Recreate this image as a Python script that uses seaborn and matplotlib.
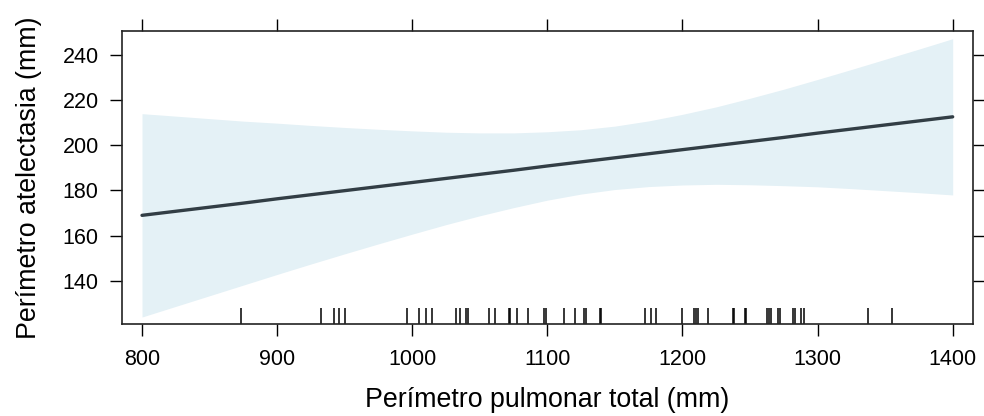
import numpy as np
import pandas as pd
import matplotlib
matplotlib.use("Agg")
import matplotlib.pyplot as plt
import seaborn as sns

# ---- data ----
x_grid = [800, 825, 850, 875, 900, 925, 950, 975, 1000, 1025, 1050, 1075, 1100,
          1125, 1150, 1175, 1200, 1225, 1250, 1275, 1300, 1325, 1350, 1375, 1400]
fit = [169.0, 170.8, 172.6, 174.4, 176.3, 178.1, 179.9, 181.7, 183.5, 185.3, 187.1, 188.9, 190.8,
       192.6, 194.4, 196.2, 198.0, 199.8, 201.6, 203.4, 205.3, 207.1, 208.9, 210.7, 212.5]
upper = [213.9, 212.8, 211.7, 210.6, 209.7, 208.7, 207.8, 207.0, 206.3, 205.7, 205.4, 205.4, 205.9,
         206.8, 208.4, 210.7, 213.6, 216.9, 220.7, 224.7, 229.0, 233.4, 237.9, 242.4, 247.0]
lower = [124.1, 128.8, 133.5, 138.2, 142.9, 147.5, 152.0, 156.4, 160.7, 164.9, 168.8, 172.4, 175.7,
         178.4, 180.4, 181.7, 182.4, 182.7, 182.5, 182.1, 181.6, 180.8, 179.9, 179.0, 178.0]

rug_x = [873.6, 932.3, 942.1, 946.1, 950.6,
         996.2, 1005.1, 1010.5, 1014.5, 1032.2, 1035.7, 1039.6, 1041.1, 1056.9, 1061.3,
         1071.5, 1072.6, 1077.4, 1085.8, 1097.6, 1099.1, 1112.0, 1120.3, 1126.8, 1128.7,
         1138.6, 1139.6,
         1172.0, 1176.4, 1180.3, 1199.6, 1208.8, 1210.0, 1211.2, 1218.8, 1237.6, 1238.4,
         1246.0, 1246.8, 1262.3, 1263.7, 1265.2, 1270.4, 1271.9, 1281.7, 1283.2, 1287.7,
         1289.7, 1337.5, 1354.8]

x_ticks = [800, 900, 1000, 1100, 1200, 1300, 1400]
y_ticks = [140, 160, 180, 200, 220, 240]
x_label = "Perímetro pulmonar total (mm)"
y_label = "Perímetro atelectasia (mm)"

sns.set_style("white")
plt.rcParams['font.family'] = ['Liberation Sans', 'DejaVu Sans']
plt.rcParams['text.color'] = 'black'
plt.rcParams['axes.labelcolor'] = 'black'
plt.rcParams['xtick.color'] = 'black'
plt.rcParams['ytick.color'] = 'black'

fig = plt.figure(figsize=(9.84, 4.16), dpi=100)
ax = fig.add_axes([0.124, 0.2205, 0.8645, 0.705])

df = pd.DataFrame({"x": x_grid, "fit": fit, "upper": upper, "lower": lower})
ax.fill_between(df["x"], df["lower"], df["upper"], color="#E4F1F6", linewidth=0, zorder=1)
sns.lineplot(data=df, x="x", y="fit", ax=ax, color="#323E45", linewidth=2.4, zorder=3)
sns.rugplot(x=rug_x, ax=ax, height=0.055, color="black", linewidth=1.1, zorder=2)

ax.set_xlim(785.2, 1414.8)
ax.set_ylim(120.9, 250.4)
ax.set_xticks(x_ticks)
ax.set_yticks(y_ticks)
ax.set_xlabel(x_label, fontsize=19.3, labelpad=12, color="black")
ax.set_ylabel(y_label, fontsize=19.3, labelpad=15, color="black")

ax.tick_params(axis="both", which="both", direction="out", length=8.8, width=1.0,
               color="black", labelcolor="black", labelsize=15.5, top=True, right=True,
               labeltop=False, labelright=False, bottom=True, left=True)
ax.tick_params(axis="x", pad=9)
ax.tick_params(axis="y", pad=8)
for s in ax.spines.values():
    s.set_visible(True)
    s.set_color("#222222")
    s.set_linewidth(1.2)

fig.savefig("out.png", dpi=100)
